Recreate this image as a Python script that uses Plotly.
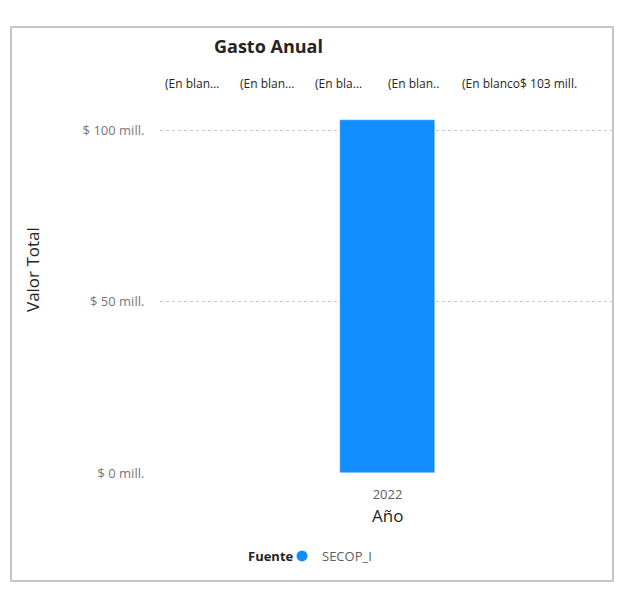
import plotly.graph_objects as go

# ---- data ----
years = ["2022"]
valor_total = [103]  # millones
series_name = "SECOP_I"
legend_title = "Fuente"
y_tickvals = [0, 50, 100]
y_ticktext = ["$ 0 mill.", "$ 50 mill.", "$ 100 mill."]
bar_labels = ["$ 103 mill."]
overlap_labels = ["(En blan…", "(En blan…", "(En bla…", "(En blan..", "(En blanco$ 103 mill."]

# page body has an 8px margin; figure is drawn 8px in from the window corner
OFF = 8
W, H = 623 - 2 * OFF, 590 - 2 * OFF
PLOT_L, PLOT_R, PLOT_T, PLOT_B = 160, 615, 110, 473  # window px
L, T = PLOT_L - OFF, PLOT_T - OFF
R = W - (PLOT_R - OFF)
B = H - (PLOT_B - OFF)
pw, ph = W - L - R, H - T - B
def px(x):  # window pixel x -> paper
    return (x - OFF - L) / pw
def py(y):  # window pixel y -> paper
    return (H - B - (y - OFF)) / ph

BLUE = "#118DFF"
FONT = "Open Sans, Segoe UI, sans-serif"

fig = go.Figure()
fig.add_trace(go.Bar(
    x=years, y=valor_total, marker_color=BLUE, width=0.209,
    showlegend=False, hoverinfo="skip",
))
# legend entry with circle marker
fig.add_trace(go.Scatter(
    x=[None], y=[None], mode="markers", name=series_name,
    marker=dict(color=BLUE, size=11, symbol="circle"),
))

ymax = ph / 3.43
fig.update_layout(
    width=W, height=H,
    margin=dict(l=L, r=R, t=T, b=B, autoexpand=False),
    paper_bgcolor="white", plot_bgcolor="white",
    font=dict(family=FONT, color="#605E5C"),
    bargap=0,
    xaxis=dict(
        type="category", range=[-0.5, 0.5], showgrid=False, showline=False,
        ticks="outside", ticklen=9, tickcolor="rgba(0,0,0,0)",
        tickfont=dict(size=13, color="#605E5C"), automargin=False,
    ),
    yaxis=dict(
        range=[0, ymax], tickvals=y_tickvals, ticktext=y_ticktext,
        showgrid=True, gridcolor="#C8C6C4", griddash="dot", gridwidth=1,
        zeroline=False, showline=False,
        ticks="outside", ticklen=12, tickcolor="rgba(0,0,0,0)",
        tickfont=dict(size=13, color="#777777"), automargin=False,
    ),
    legend=dict(
        orientation="h", x=px(282), y=py(556), xanchor="left", yanchor="middle",
        font=dict(size=13, color="#605E5C"),
        itemwidth=30, bgcolor="rgba(0,0,0,0)",
    ),
    showlegend=True,
)

# frame border
fig.add_shape(type="rect", xref="paper", yref="paper",
              x0=px(11), x1=px(613), y0=py(581), y1=py(27),
              line=dict(color="#C8C6C4", width=2), fillcolor="rgba(0,0,0,0)", layer="below")

# title
fig.add_annotation(text="<b>Gasto Anual</b>", xref="paper", yref="paper",
                   x=px(268), y=py(46), showarrow=False, xanchor="center", yanchor="middle",
                   font=dict(size=18, color="#252423"))
# axis titles
fig.add_annotation(text="Valor Total", xref="paper", yref="paper",
                   x=px(32), y=py(270), showarrow=False, textangle=-90,
                   xanchor="center", yanchor="middle",
                   font=dict(size=17, color="#252423"))
fig.add_annotation(text="Año", xref="paper", yref="paper",
                   x=px(387), y=py(515), showarrow=False,
                   xanchor="center", yanchor="middle",
                   font=dict(size=17, color="#252423"))
# legend title
fig.add_annotation(text="<b>" + legend_title + "</b>", xref="paper", yref="paper",
                   x=px(296), y=py(556), showarrow=False,
                   xanchor="right", yanchor="middle",
                   font=dict(size=13, color="#252423"))

# overlapping data labels row
starts = [163, 238, 313, 386, 460]
for s, t in zip(starts, overlap_labels):
    fig.add_annotation(text=t, xref="paper", yref="paper", x=px(s), y=py(83),
                       showarrow=False, xanchor="left", yanchor="middle",
                       font=dict(size=12, color="#252423"))

# bar data label
for xv, yv, lab in zip(years, valor_total, bar_labels):
    fig.add_annotation(text=lab, x=xv, y=yv, showarrow=False, yanchor="bottom",
                       yshift=8, font=dict(size=12, color="#605E5C"))

fig.write_html("out.html")
